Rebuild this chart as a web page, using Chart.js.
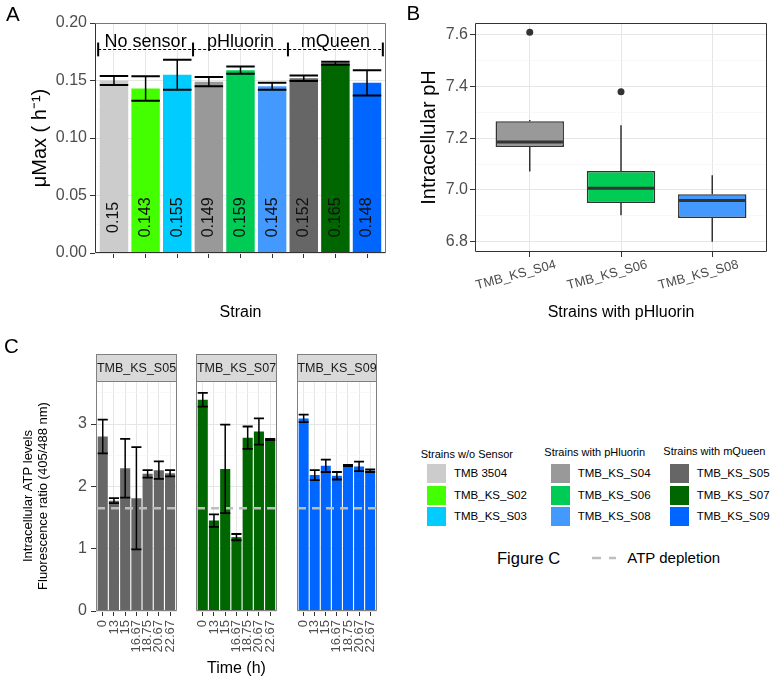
<!DOCTYPE html>
<html><head><meta charset="utf-8">
<script src="https://cdn.jsdelivr.net/npm/chart.js@4.4.1/dist/chart.umd.min.js"></script>
<style>
html,body{margin:0;padding:0;background:#fff;}
body{width:774px;height:683px;position:relative;overflow:hidden;font-family:"Liberation Sans",Arial,Helvetica,sans-serif;color:#000;}
canvas{position:absolute;}
.t{position:absolute;white-space:nowrap;}
.sw{position:absolute;width:19px;height:19px;}
</style></head><body>
<canvas id="cA" width="390" height="330" style="left:0;top:0"></canvas>
<canvas id="cB" width="384" height="330" style="left:390px;top:0"></canvas>
<canvas id="cC1" width="190" height="343" style="left:0;top:340px"></canvas>
<canvas id="cC2" width="100" height="343" style="left:190px;top:340px"></canvas>
<canvas id="cC3" width="100" height="343" style="left:290px;top:340px"></canvas>
<div id="html"></div>
<script>
// ---------------- DATA ----------------
const strainsA = ['TMB 3504','TMB_KS_S02','TMB_KS_S03','TMB_KS_S04','TMB_KS_S06','TMB_KS_S08','TMB_KS_S05','TMB_KS_S07','TMB_KS_S09'];
const colorsA = ['#CCCCCC','#44FF00','#00CCFF','#999999','#00CC55','#4499FF','#666666','#006600','#0066FF'];
const muMax = [0.15,0.143,0.155,0.149,0.159,0.145,0.152,0.165,0.148];
const muMaxErr = [0.004,0.0106,0.013,0.004,0.0032,0.003,0.0024,0.0012,0.011];
const groupNames = ['No sensor','pHluorin','mQueen'];
const groupBounds = [-0.5,2.5,5.5,8.5];
const yTicksA = ['0.00','0.05','0.10','0.15','0.20'];
const yMinorA = [0.025,0.075,0.125,0.175];

const strainsB = ['TMB_KS_S04','TMB_KS_S06','TMB_KS_S08'];
const colorsB = ['#999999','#00CC55','#4499FF'];
const pHLow = [7.071,6.902,6.800];
const pHQ1 = [7.166,6.949,6.891];
const pHMedian = [7.185,7.006,6.959];
const pHQ3 = [7.265,7.073,6.983];
const pHHigh = [7.270,7.250,7.057];
const pHOutlier = [7.609,7.379,null];
const yTicksB = ['6.8','7.0','7.2','7.4','7.6'];
const yMinorB = [6.9,7.1,7.3,7.5];

const timesC = ['0','13','15','16.67','18.75','20.67','22.67'];
const facetsC = ['TMB_KS_S05','TMB_KS_S07','TMB_KS_S09'];
const colorsC = ['#666666','#006600','#0066FF'];
const atpS05 = [2.80,1.77,2.29,1.81,2.20,2.26,2.21];
const atpS05Err = [0.27,0.04,0.47,0.82,0.06,0.14,0.05];
const atpS07 = [3.39,1.45,2.28,1.185,2.78,2.88,2.75];
const atpS07Err = [0.11,0.10,0.71,0.05,0.18,0.21,0.01];
const atpS09 = [3.09,2.18,2.33,2.17,2.335,2.32,2.25];
const atpS09Err = [0.06,0.08,0.10,0.06,0.01,0.075,0.02];
const atpDepletion = 1.65;
const yTicksC = ['0','1','2','3'];
const yMinorC = [0.5,1.5,2.5,3.5];

const legendTitles = ['Strains w/o Sensor','Strains with pHluorin','Strains with mQueen'];

// ---------------- HELPERS ----------------
const FONT = '"Liberation Sans", Arial, Helvetica, sans-serif';
Chart.defaults.font.family = FONT;
const GRID_MAJ = '#E6E6E6', GRID_MIN = '#F3F3F3';

function yScale(o){
  const majors = o.labels.map(Number);
  const all = majors.concat(o.minors).sort((a,b)=>a-b);
  const isMaj = c => c && c.tick && majors.includes(c.tick.value);
  return {
    type:'linear', min:o.min, max:o.max, offset:false,
    afterBuildTicks: s => { s.ticks = all.map(v=>({value:v})); },
    afterFit: s => { s.width = o.width; },
    border:{display:false},
    grid:{ color: c => isMaj(c) ? GRID_MAJ : GRID_MIN, lineWidth: c => isMaj(c) ? 1 : 0.6,
           tickColor: c => isMaj(c) ? '#333333' : 'rgba(0,0,0,0)', tickLength:5, drawTicks: o.show },
    ticks:{ display:o.show, autoSkip:false, padding:o.pad, color:'#4D4D4D', font:{size:16},
            callback: v => { const i = majors.indexOf(v); return i>=0 ? o.labels[i] : ''; } },
    title: o.title ? {display:true, text:o.title, color:'#000', font:{size:o.titleSize, lineHeight:o.titleLH||1.2}, padding:{top:o.titlePad,bottom:0}} : {display:false}
  };
}
function xScale(o){
  const idx = o.labels.map((_,i)=>i);
  return {
    type:'linear', min:-0.6, max:o.labels.length-1+0.6, offset:false,
    afterBuildTicks: s => { s.ticks = idx.map(v=>({value:v})); },
    afterFit: s => { s.height = o.height; },
    border:{display:false},
    grid:{ offset:false, color:GRID_MAJ, lineWidth:1, tickColor:'#333333', tickLength:5 },
    ticks:{ display:o.show, autoSkip:false, minRotation:o.rot||0, maxRotation:o.rot||0, padding:o.pad||0,
            labelOffset:o.labelOffset||0, color:'#4D4D4D', font:{size:o.fontSize||13}, callback: v => o.labels[v] },
    title: o.title ? {display:true, text:o.title, color:'#000', font:{size:16, lineHeight:1.2}, padding:{top:0,bottom:o.titlePad}} : {display:false}
  };
}
function frame(ctx, a, cTop, cRight, cBottom, cLeft){
  const L=Math.round(a.left)+0.5, R=Math.round(a.right)-0.5, T=Math.round(a.top)+0.5, B=Math.round(a.bottom)-0.5;
  ctx.setLineDash([]); ctx.lineWidth=1;
  [[L,T,R,T,cTop],[R,T,R,B,cRight],[L,B,R,B,cBottom],[L,T,L,B,cLeft]].forEach(s=>{
    ctx.strokeStyle=s[4]; ctx.beginPath(); ctx.moveTo(s[0],s[1]); ctx.lineTo(s[2],s[3]); ctx.stroke();
  });
}
function errorBars(chart, vals, errs, stem, cap){
  const ctx = chart.ctx, y = chart.scales.y, meta = chart.getDatasetMeta(0);
  ctx.strokeStyle='#000'; ctx.setLineDash([]);
  vals.forEach((v,i)=>{
    const b = meta.data[i], cx = b.x, hw = b.width/2;
    const yt = y.getPixelForValue(v+errs[i]), yb = y.getPixelForValue(v-errs[i]);
    ctx.lineWidth=stem; ctx.beginPath(); ctx.moveTo(cx,yt); ctx.lineTo(cx,yb); ctx.stroke();
    ctx.lineWidth=cap; ctx.beginPath(); ctx.moveTo(cx-hw,yt); ctx.lineTo(cx+hw,yt); ctx.moveTo(cx-hw,yb); ctx.lineTo(cx+hw,yb); ctx.stroke();
  });
}
const base = { responsive:false, maintainAspectRatio:false, animation:false,
  plugins:{legend:{display:false}, tooltip:{enabled:false}} };

// ---------------- PANEL A ----------------
const pluginA = { id:'annotA', afterDatasetsDraw(chart){
  const {ctx, chartArea:a, scales:{x,y}} = chart;
  ctx.save();
  ctx.font = '16px '+FONT; ctx.fillStyle='#111'; ctx.textAlign='center'; ctx.textBaseline='middle';
  muMax.forEach((v,i)=>{ ctx.save(); ctx.translate(x.getPixelForValue(i), y.getPixelForValue(0.031)); ctx.rotate(-Math.PI/2); ctx.fillText(String(v),0,0); ctx.restore(); });
  errorBars(chart, muMax, muMaxErr, 1.5, 2);
  const yl = Math.round(y.getPixelForValue(0.1775))+0.5;
  ctx.strokeStyle='#000'; ctx.lineWidth=1; ctx.setLineDash([3,2]);
  ctx.beginPath(); ctx.moveTo(x.getPixelForValue(groupBounds[0]), yl); ctx.lineTo(x.getPixelForValue(groupBounds[groupBounds.length-1]), yl); ctx.stroke();
  ctx.setLineDash([]); ctx.lineWidth=2;
  groupBounds.forEach(b=>{ const px=x.getPixelForValue(b); ctx.beginPath(); ctx.moveTo(px,y.getPixelForValue(0.171)); ctx.lineTo(px,y.getPixelForValue(0.183)); ctx.stroke(); });
  ctx.font='18px '+FONT; ctx.fillStyle='#000';
  groupNames.forEach((g,i)=>{ ctx.fillText(g, x.getPixelForValue((groupBounds[i]+groupBounds[i+1])/2), y.getPixelForValue(0.1835)); });
  frame(ctx, a, '#777777', '#777777', '#333333', '#333333');
  ctx.restore();
}};
new Chart(document.getElementById('cA'), {
  type:'bar',
  data:{ datasets:[{ data: muMax.map((v,i)=>({x:i,y:v})), backgroundColor: colorsA, borderWidth:0, barPercentage:0.9, categoryPercentage:1 }]},
  options:Object.assign({}, base, {
    layout:{ padding:{left:0,right:4,top:23,bottom:0}, autoPadding:false },
    scales:{
      x: xScale({labels:strainsA, height:77, show:false, title:'Strain', titlePad:7.4}),
      y: yScale({labels:yTicksA, minors:yMinorA, min:0, max:0.2, width:95, show:true, pad:3, title:'μMax ( h⁻¹)', titleSize:20, titlePad:28})
    }
  }),
  plugins:[pluginA]
});

// ---------------- PANEL B ----------------
const pluginB = { id:'boxB', afterDatasetsDraw(chart){
  const {ctx, chartArea:a, scales:{y}} = chart; const meta = chart.getDatasetMeta(0);
  ctx.save(); ctx.strokeStyle='#333333'; ctx.setLineDash([]);
  strainsB.forEach((s,i)=>{
    const b = meta.data[i], cx = b.x, hw = b.width/2;
    ctx.lineWidth=1.5; ctx.beginPath();
    ctx.moveTo(cx, y.getPixelForValue(pHQ3[i])); ctx.lineTo(cx, y.getPixelForValue(pHHigh[i]));
    ctx.moveTo(cx, y.getPixelForValue(pHQ1[i])); ctx.lineTo(cx, y.getPixelForValue(pHLow[i]));
    ctx.stroke();
    const ym = y.getPixelForValue(pHMedian[i]);
    ctx.lineWidth=3; ctx.beginPath(); ctx.moveTo(cx-hw+1, ym); ctx.lineTo(cx+hw-1, ym); ctx.stroke();
  });
  frame(ctx, a, '#333333', '#333333', '#333333', '#333333');
  ctx.restore();
}};
new Chart(document.getElementById('cB'), {
  type:'bar',
  data:{ datasets:[
    { type:'bar', data: strainsB.map((s,i)=>({x:i, y:[pHQ1[i], pHQ3[i]]})), backgroundColor: colorsB, borderColor:'#333333', borderWidth:1.5, borderSkipped:false, barPercentage:0.75, categoryPercentage:1, order:2 },
    { type:'line', data: pHOutlier.map((v,i)=>({x:i,y:v})).filter(p=>p.y!==null), showLine:false, pointRadius:3.5, pointBackgroundColor:'#333333', pointBorderWidth:0, order:1 }
  ]},
  options:Object.assign({}, base, {
    layout:{ padding:{left:0,right:7,top:23,bottom:0}, autoPadding:false },
    scales:{
      x: xScale({labels:strainsB, height:78, show:true, rot:15, pad:0, labelOffset:26, fontSize:13, title:'Strains with pHluorin', titlePad:7.4}),
      y: yScale({labels:yTicksB, minors:yMinorB, min:6.76, max:7.645, width:85, show:true, pad:2, title:'Intracellular pH', titleSize:20, titlePad:27.5})
    }
  }),
  plugins:[pluginB]
});

// ---------------- PANEL C ----------------
const seriesC = [atpS05, atpS07, atpS09];
const errC = [atpS05Err, atpS07Err, atpS09Err];
function facet(id, k, padL, padR){
  const plugin = { id:'facet'+k, afterDatasetsDraw(chart){
    const {ctx, chartArea:a, scales:{y}} = chart;
    ctx.save();
    const yd = y.getPixelForValue(atpDepletion);
    ctx.strokeStyle='#BEBEBE'; ctx.lineWidth=2.5; ctx.setLineDash([8,6]);
    ctx.beginPath(); ctx.moveTo(a.left+1, yd); ctx.lineTo(a.right, yd); ctx.stroke();
    errorBars(chart, seriesC[k], errC[k], 1.5, 1.8);
    frame(ctx, a, '#808080', '#808080', '#808080', '#808080');
    const L=Math.round(a.left)+0.5, R=Math.round(a.right)-0.5, T=Math.round(a.top)-27+0.5, B=Math.round(a.top)+0.5;
    ctx.fillStyle='#D9D9D9'; ctx.fillRect(L,T,R-L,B-T);
    ctx.strokeStyle='#808080'; ctx.lineWidth=1; ctx.strokeRect(L,T,R-L,B-T);
    ctx.fillStyle='#1A1A1A'; ctx.font='12.5px '+FONT; ctx.textAlign='center'; ctx.textBaseline='middle';
    ctx.fillText(facetsC[k], (L+R)/2, (T+B)/2+0.5);
    ctx.restore();
  }};
  const first = k===0, mid = k===1;
  new Chart(document.getElementById(id), {
    type:'bar',
    data:{ datasets:[{ data: seriesC[k].map((v,i)=>({x:i,y:v})), backgroundColor: colorsC[k], borderWidth:0, barPercentage:0.9, categoryPercentage:1 }]},
    options:Object.assign({}, base, {
      layout:{ padding:{left:padL,right:padR,top:41,bottom:0}, autoPadding:false },
      scales:{
        x: xScale({labels:timesC, height:72, show:true, rot:90, pad:4, fontSize:13, title: mid ? 'Time (h)' : null, titlePad:4.4}),
        y: yScale({labels:yTicksC, minors:yMinorC, min:0, max:3.69, width: first?96:0, show:first, pad:4,
                   title: first ? ['Intracellular ATP levels','Fluorescence ratio (405/488 nm)'] : null, titleSize:13, titleLH:1.154, titlePad:20.5})
      }
    }),
    plugins:[plugin]
  });
}
facet('cC1',0,0,4);
facet('cC2',1,6,3);
facet('cC3',2,7,3);

// ---------------- HTML TEXT: panel letters & legend ----------------
const host = document.getElementById('html');
function txt(s, x, cy, size, extra){
  const d = document.createElement('div'); d.className='t'; d.textContent=s;
  const lh = Math.round(size*1.3);
  d.style.cssText = `left:${x}px;top:${cy-lh/2}px;font-size:${size}px;line-height:${lh}px;`+(extra||'');
  host.appendChild(d); return d;
}
txt('A', 6, 13.5, 20.5);
txt('B', 406.5, 12.8, 20.5);
txt('C', 4, 345.5, 20.5);
const legCols = [{sw:427, tx:454, ti:420.7, ty:454.3},{sw:551, tx:577.7, ti:544.3, ty:452.3},{sw:670, tx:696.7, ti:663.3, ty:450.7}];
const legRows = [473.3, 495.2, 516.8];
legendTitles.forEach((t,g)=>{
  const c = legCols[g];
  txt(t, c.ti, c.ty, 11, 'color:#000;');
  for(let r=0;r<3;r++){
    const i = g*3+r;
    const s = document.createElement('div'); s.className='sw';
    s.style.cssText = `left:${c.sw}px;top:${legRows[r]-9.5}px;background:${colorsA[i]};`;
    host.appendChild(s);
    txt(strainsA[i], c.tx, legRows[r], 11.5, 'color:#000;');
  }
});
txt('Figure C', 497, 558.3, 16.5);
txt('ATP depletion', 627.3, 558.3, 15);
const svg = document.createElementNS('http://www.w3.org/2000/svg','svg');
svg.setAttribute('width','30'); svg.setAttribute('height','6');
svg.style.cssText='position:absolute;left:591px;top:555px;';
svg.innerHTML = '<line x1="1" y1="3" x2="25" y2="3" stroke="#BEBEBE" stroke-width="2.5" stroke-dasharray="9,8"/>';
host.appendChild(svg);
</script>
</body></html>
